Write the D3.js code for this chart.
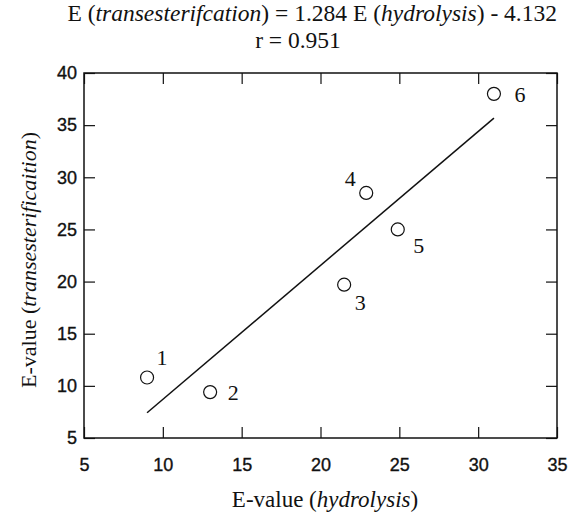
<!DOCTYPE html>
<html lang="en">
<head>
<meta charset="UTF-8">
<title>E-value correlation</title>
<style>
  body { margin: 0; background: #fff; }
  .tick text { font-family: "Liberation Sans", Arial, sans-serif; font-size: 18px; fill: #111; stroke: #111; stroke-width: 0.35px; }
  .serif { font-family: "Liberation Serif", "Times New Roman", serif; fill: #111; }
</style>
</head>
<body>
<svg id="chart"></svg>
<script src="https://cdn.jsdelivr.net/npm/d3@7/dist/d3.min.js"></script>
<script>
// data
const pointIds = ['1', '2', '3', '4', '5', '6'];
const hydrolysis = [9.0, 13.0, 21.5, 22.9, 24.9, 31.0];
const transesterification = [10.8, 9.4, 19.7, 28.5, 25.0, 38.0];
const slope = 1.284;
const intercept = -4.132;
const rValue = 0.951;
const xTicks = [5, 10, 15, 20, 25, 30, 35];
const yTicks = [5, 10, 15, 20, 25, 30, 35, 40];

const svgWidth = 570, svgHeight = 515;
const margin = {top: 73, right: 13, bottom: 77, left: 84};
const width = svgWidth - margin.left - margin.right;
const height = svgHeight - margin.top - margin.bottom;

const svg = d3.select('#chart')
    .attr('width', svgWidth)
    .attr('height', svgHeight);

const g = svg.append('g')
    .attr('transform', `translate(${margin.left},${margin.top})`);

const x = d3.scaleLinear().domain([5, 35]).range([0, width]);
const y = d3.scaleLinear().domain([5, 40]).range([height, 0]);

// axes, ticks pointing inwards
const tickLen = 11;
g.append('g')
    .attr('transform', `translate(0,${height})`)
    .call(d3.axisBottom(x).tickValues(xTicks).tickSizeInner(-tickLen).tickSizeOuter(0).tickPadding(20))
g.append('g')
    .call(d3.axisTop(x).tickValues(xTicks).tickSizeInner(-tickLen).tickSizeOuter(0).tickFormat(''));
g.append('g')
    .call(d3.axisLeft(y).tickValues(yTicks).tickSizeInner(-tickLen).tickSizeOuter(0).tickPadding(7));
g.append('g')
    .attr('transform', `translate(${width},0)`)
    .call(d3.axisRight(y).tickValues(yTicks).tickSizeInner(-tickLen).tickSizeOuter(0).tickFormat(''));

g.selectAll('.domain').remove();
g.selectAll('.tick line').attr('stroke', '#111').attr('stroke-width', 1.2);

// frame
g.append('rect')
    .attr('width', width)
    .attr('height', height)
    .attr('fill', 'none')
    .attr('stroke', '#111')
    .attr('stroke-width', 1.5);

// regression line across the data range
const xExt = d3.extent(hydrolysis);
g.append('line')
    .attr('x1', x(xExt[0])).attr('y1', y(slope * xExt[0] + intercept))
    .attr('x2', x(xExt[1])).attr('y2', y(slope * xExt[1] + intercept))
    .attr('stroke', '#111')
    .attr('stroke-width', 1.5);

// points
const points = pointIds.map((id, i) => ({id: id, hx: hydrolysis[i], tx: transesterification[i]}));
g.selectAll('circle.pt')
    .data(points).enter()
    .append('circle')
    .attr('class', 'pt')
    .attr('cx', d => x(d.hx))
    .attr('cy', d => y(d.tx))
    .attr('r', 6.5)
    .attr('fill', 'none')
    .attr('stroke', '#111')
    .attr('stroke-width', 1.2);

// where each number sits relative to its circle
const labelOffset = {'1': [15, -20], '2': [23, 0], '3': [16, 18], '4': [-16, -15], '5': [21, 16], '6': [26, 0]};
g.selectAll('text.plab')
    .data(points).enter()
    .append('text')
    .attr('class', 'plab serif')
    .attr('x', d => x(d.hx) + labelOffset[d.id][0])
    .attr('y', d => y(d.tx) + labelOffset[d.id][1])
    .attr('dy', '0.35em')
    .attr('text-anchor', 'middle')
    .style('font-size', '22px')
    .text(d => d.id);

// titles
const title = svg.append('text')
    .attr('class', 'serif')
    .attr('x', 557)
    .attr('y', 21)
    .attr('text-anchor', 'end')
    .style('font-size', '23.5px');
title.append('tspan').text('E (');
title.append('tspan').style('font-style', 'italic').text('transesterifcation');
title.append('tspan').text(`) = ${slope} E (`);
title.append('tspan').style('font-style', 'italic').text('hydrolysis');
title.append('tspan').text(`) - ${Math.abs(intercept)}`);

svg.append('text')
    .attr('class', 'serif')
    .attr('x', 298)
    .attr('y', 48)
    .attr('text-anchor', 'middle')
    .style('font-size', '23.5px')
    .text(`r = ${rValue}`);

const xTitle = svg.append('text')
    .attr('class', 'serif')
    .attr('x', 325)
    .attr('y', 507)
    .attr('text-anchor', 'middle')
    .style('font-size', '23px');
xTitle.append('tspan').text('E-value (');
xTitle.append('tspan').style('font-style', 'italic').text('hydrolysis');
xTitle.append('tspan').text(')');

const yTitle = svg.append('text')
    .attr('class', 'serif')
    .attr('transform', `translate(36,260) rotate(-90)`)
    .attr('text-anchor', 'middle')
    .style('font-size', '22px');
yTitle.append('tspan').text('E-value (');
yTitle.append('tspan').style('font-style', 'italic').text('transesterificaition');
yTitle.append('tspan').text(')');
</script>
</body>
</html>
